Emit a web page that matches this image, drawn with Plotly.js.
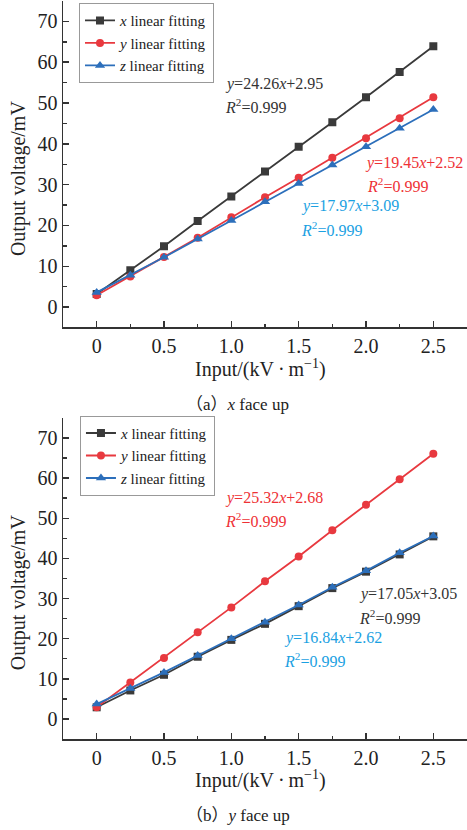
<!DOCTYPE html>
<html>
<head>
<meta charset="utf-8">
<script src="https://cdn.plot.ly/plotly-3.0.1.min.js"></script>
<style>html,body{margin:0;padding:0;background:#fff;}#chart{width:467px;height:830px;}</style>
</head>
<body>
<div id="chart"></div>
<script>
// Input field strength (kV/m)
const inputKV = [0, 0.25, 0.5, 0.75, 1.0, 1.25, 1.5, 1.75, 2.0, 2.25, 2.5];
// (a) x face up
const aXOut = [3.2, 9.0, 14.9, 21.1, 27.1, 33.2, 39.3, 45.3, 51.4, 57.6, 63.9];
const aYOut = [2.9, 7.5, 12.3, 17.0, 22.0, 26.9, 31.7, 36.6, 41.4, 46.3, 51.4];
const aZOut = [3.6, 7.8, 12.2, 16.7, 21.2, 25.8, 30.3, 34.8, 39.3, 43.8, 48.4];
// (b) y face up
const bXOut = [2.9, 7.1, 11.0, 15.5, 19.7, 23.7, 28.1, 32.6, 36.7, 41.0, 45.5];
const bYOut = [2.9, 9.1, 15.2, 21.6, 27.8, 34.3, 40.5, 47.0, 53.4, 59.7, 66.1];
const bZOut = [3.7, 7.6, 11.6, 15.8, 20.0, 24.1, 28.4, 32.8, 36.9, 41.4, 45.6];

const seriesNames = ['<i>x</i> linear fitting', '<i>y</i> linear fitting', '<i>z</i> linear fitting'];
const xTickVals = [0, 0.5, 1.0, 1.5, 2.0, 2.5];
const xTickText = ['0', '0.5', '1.0', '1.5', '2.0', '2.5'];
const yTickVals = [0, 10, 20, 30, 40, 50, 60, 70];

const eqA = [
  {eq: '<i>y</i>=24.26<i>x</i>+2.95', r2: '<i>R</i><sup>2</sup>=0.999', color: '#333333', x: 0.935, y1: 54.7, y2: 49.3, anchor: 'left'},
  {eq: '<i>y</i>=19.45<i>x</i>+2.52', r2: '<i>R</i><sup>2</sup>=0.999', color: '#ee3135', x: 2.735, y1: 35.4, y2: 30.0, anchor: 'right', r2x: 1.995},
  {eq: '<i>y</i>=17.97<i>x</i>+3.09', r2: '<i>R</i><sup>2</sup>=0.999', color: '#1ba1e2', x: 1.50, y1: 24.8, y2: 19.2, anchor: 'left'}
];
const eqB = [
  {eq: '<i>y</i>=25.32<i>x</i>+2.68', r2: '<i>R</i><sup>2</sup>=0.999', color: '#ee3135', x: 0.935, y1: 55.1, y2: 49.6, anchor: 'left'},
  {eq: '<i>y</i>=17.05<i>x</i>+3.05', r2: '<i>R</i><sup>2</sup>=0.999', color: '#333333', x: 1.93, y1: 31.2, y2: 25.4, anchor: 'left'},
  {eq: '<i>y</i>=16.84<i>x</i>+2.62', r2: '<i>R</i><sup>2</sup>=0.999', color: '#1ba1e2', x: 1.376, y1: 20.2, y2: 14.7, anchor: 'left'}
];

const FONT = 'Liberation Serif, Times New Roman, serif';
const colors = ['#3a3a3a', '#e8393f', '#2c6fbb'];
const symbols = ['square', 'circle', 'triangle-up'];

function mk(yv, i, xa, ya, leg) {
  return {
    x: inputKV, y: yv, xaxis: xa, yaxis: ya, legend: leg,
    type: 'scatter', mode: 'lines+markers', name: seriesNames[i],
    line: {color: colors[i], width: 1.8},
    marker: {symbol: symbols[i], size: i === 2 ? 9 : 8, color: colors[i]}
  };
}

const data = [
  mk(aXOut, 0, 'x', 'y', 'legend'),
  mk(aYOut, 1, 'x', 'y', 'legend'),
  mk(aZOut, 2, 'x', 'y', 'legend'),
  mk(bXOut, 0, 'x2', 'y2', 'legend2'),
  mk(bYOut, 1, 'x2', 'y2', 'legend2'),
  mk(bZOut, 2, 'x2', 'y2', 'legend2')
];

const xAxisBase = {
  range: [-0.25, 2.75], tickvals: xTickVals, ticktext: xTickText,
  ticks: 'inside', ticklen: 6, tickwidth: 1.5, tickcolor: '#333',
  minor: {dtick: 0.25, ticks: 'inside', ticklen: 3.5, tickwidth: 1.5, tickcolor: '#333'},
  showline: true, linecolor: '#333', linewidth: 1.5, showgrid: false, zeroline: false,
  tickfont: {family: FONT, size: 20, color: '#222'}
};
const yAxisBase = {
  range: [-5, 75], tickvals: yTickVals,
  ticks: 'inside', ticklen: 6, tickwidth: 1.5, tickcolor: '#333',
  minor: {dtick: 5, ticks: 'inside', ticklen: 3.5, tickwidth: 1.5, tickcolor: '#333'},
  showline: true, linecolor: '#333', linewidth: 1.5, showgrid: false, zeroline: false,
  tickfont: {family: FONT, size: 20, color: '#222'}
};

const annotations = [];
function addEq(list, xr, yr) {
  list.forEach(e => {
    annotations.push({xref: xr, yref: yr, x: e.x, y: e.y1, text: e.eq, showarrow: false, xanchor: e.anchor, yanchor: 'middle', font: {family: FONT, size: 16, color: e.color}});
    annotations.push({xref: xr, yref: yr, x: e.r2x !== undefined ? e.r2x : e.x, y: e.y2, text: e.r2, showarrow: false, xanchor: 'left', yanchor: 'middle', font: {family: FONT, size: 16, color: e.color}});
  });
}
addEq(eqA, 'x', 'y');
addEq(eqB, 'x2', 'y2');

const titleFont = {family: FONT, size: 20, color: '#222'};
const capFont = {family: FONT + ', Noto Sans CJK SC', size: 17, color: '#222'};
const xTitle = 'Input/(kV\u2009·\u2009m<sup>−1</sup>)';
annotations.push(
  {xref: 'paper', yref: 'paper', x: -0.1114, y: 0.760, text: 'Output voltage/mV', textangle: -90, showarrow: false, xanchor: 'center', yanchor: 'middle', font: titleFont},
  {xref: 'paper', yref: 'paper', x: -0.1114, y: 0.199, text: 'Output voltage/mV', textangle: -90, showarrow: false, xanchor: 'center', yanchor: 'middle', font: titleFont},
  {xref: 'paper', yref: 'paper', x: 0.489, y: 0.5025, text: xTitle, showarrow: false, xanchor: 'center', yanchor: 'middle', font: titleFont},
  {xref: 'paper', yref: 'paper', x: 0.489, y: -0.0555, text: xTitle, showarrow: false, xanchor: 'center', yanchor: 'middle', font: titleFont},
  {xref: 'paper', yref: 'paper', x: 0.433, y: 0.4526, text: '（a）<i>x</i> face up', showarrow: false, xanchor: 'center', yanchor: 'middle', font: capFont},
  {xref: 'paper', yref: 'paper', x: 0.432, y: -0.104, text: '（b）<i>y</i> face up', showarrow: false, xanchor: 'center', yanchor: 'middle', font: capFont}
);

const legBase = {
  xanchor: 'left', yanchor: 'top', bgcolor: '#ffffff', bordercolor: '#999', borderwidth: 1,
  font: {family: FONT, size: 15, color: '#222'}, tracegroupgap: 0, itemwidth: 30
};

const layout = {
  width: 467, height: 830,
  margin: {l: 63, r: 0, t: 1, b: 91},
  paper_bgcolor: '#fff', plot_bgcolor: '#fff',
  showlegend: true,
  xaxis: Object.assign({}, xAxisBase, {anchor: 'y', domain: [0, 1]}),
  yaxis: Object.assign({}, yAxisBase, {anchor: 'x', domain: [0.5576, 1]}),
  xaxis2: Object.assign({}, xAxisBase, {anchor: 'y2', domain: [0, 1]}),
  yaxis2: Object.assign({}, yAxisBase, {anchor: 'x2', domain: [0, 0.435]}),
  legend: Object.assign({}, legBase, {x: 0.0396, y: 0.997}),
  legend2: Object.assign({}, legBase, {x: 0.042, y: 0.438}),
  annotations: annotations
};

Plotly.newPlot('chart', data, layout, {displayModeBar: false, staticPlot: true});
</script>
</body>
</html>
